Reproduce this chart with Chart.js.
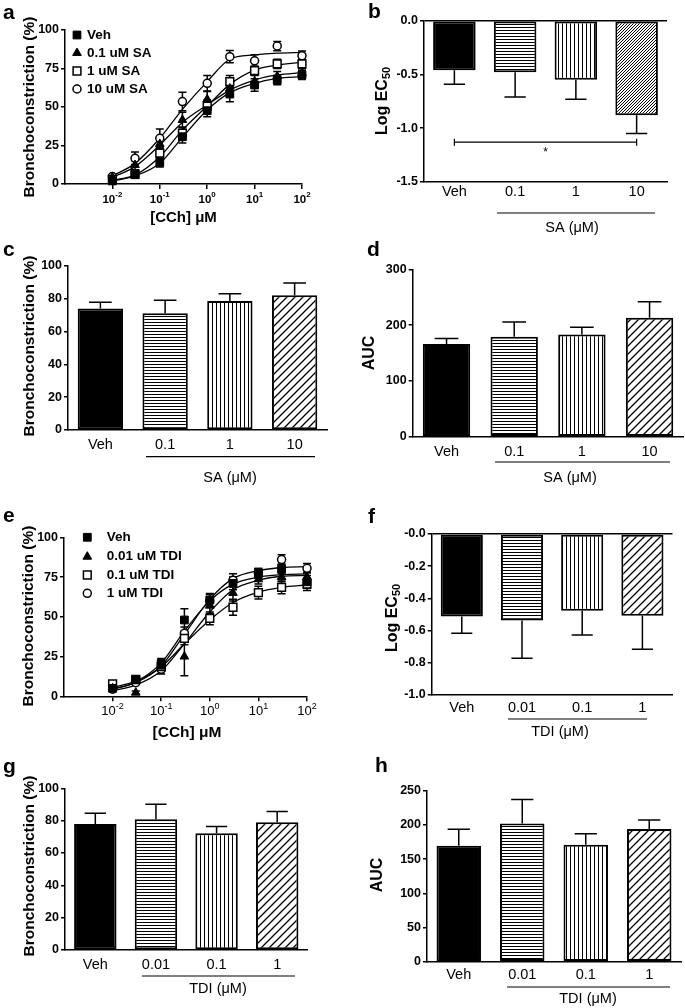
<!DOCTYPE html>
<html>
<head>
<meta charset="utf-8">
<script src="https://cdn.jsdelivr.net/npm/chart.js@4.4.0/dist/chart.umd.min.js"></script>
<style>
html, body { margin: 0; padding: 0; background: #fff; }
#fig { position: relative; width: 685px; height: 1008px; overflow: hidden; }
canvas { position: absolute; }
</style>
</head>
<body>
<div id="fig"></div>
<script>
// concentration-response x values and axis ticks
const conc = [0.01, 0.03, 0.1, 0.3, 1, 3, 10, 30, 100];
const logTicks = [0.01, 0.1, 1, 10, 100];
const saGroups = ['Veh', '0.1', '1', '10'];
const tdiGroups = ['Veh', '0.01', '0.1', '1'];
const saLegend = ['Veh', '0.1 uM SA', '1 uM SA', '10 uM SA'];
const tdiLegend = ['Veh', '0.01 uM TDI', '0.1 uM TDI', '1 uM TDI'];

// a: SA curves (mean, SEM, fitted curve read at each conc)
const aVeh = [2, 6, 14, 30.7, 47.6, 58.4, 64.3, 67.5, 70.8];
const aVehSem = [1, 2, 3, 4, 4, 5, 4, 3, 3];
const aSA01 = [4.3, 12.3, 26, 41.6, 55, 62, 66.5, 70, 72];
const aSA01Sem = [1, 3, 4, 5, 5, 4, 4, 3, 3];
const aSA1 = [3, 6.5, 20, 33, 50.6, 66.5, 73.6, 78, 78];
const aSA1Sem = [1, 2, 3, 4, 4, 4, 3, 3, 3];
const aSA10 = [4.8, 16.7, 29.7, 53.5, 65.4, 82.7, 80, 89.6, 83.3];
const aSA10Sem = [1, 4, 6, 6, 5, 4, 4, 3, 3];
const aVehFit = [2, 5.2, 13.4, 30.3, 48, 59.3, 65.4, 68.6, 69.7];
const aSA01Fit = [4.3, 11.3, 25.3, 40, 51.3, 61, 67.5, 70.8, 72.3];
const aSA1Fit = [2.6, 5.8, 17.7, 35, 50.6, 64.7, 74, 77.3, 79];
const aSA10Fit = [5.2, 13.4, 29.7, 48.5, 66.5, 81, 83.8, 85, 85.5];

// b, c, d: SA summary bars
const bEC50 = [-0.46, -0.48, -0.55, -0.88];
const bSem = [0.13, 0.23, 0.18, 0.17];
const cMax = [74, 71, 78.5, 82];
const cSem = [3.7, 8, 4.5, 7.5];
const dAuc = [166, 179, 183, 213];
const dSem = [10, 26.6, 13, 29];

// e: TDI curves
const eVeh = [5, 10.3, 20.8, 48, 60.6, 71, 77.4, 80, 72];
const eVehSem = [1, 2, 3, 7, 4, 4, 3, 3, 4];
const eTdi001 = [5, 2.3, 18.7, 25, 57, 65, 73.6, 75, 75];
const eTdi001Sem = [1, 1, 3, 12, 5, 5, 3, 3, 3];
const eTdi01 = [7.8, 10.7, 18.7, 36.5, 49, 56, 65.2, 68.5, 70.6];
const eTdi01Sem = [1, 1, 3, 4, 4, 5, 4, 4, 4];
const eTdi1 = [4.5, 8.6, 17, 39.6, 60, 73, 77.4, 86, 80.5];
const eTdi1Sem = [1, 1, 3, 4, 4, 4, 3, 3, 3];
const eVehFit = [4.5, 9, 21, 41, 60, 70.5, 75, 76.5, 77];
const eTdi001Fit = [3.5, 7, 16, 33, 53, 67, 73, 75.5, 76];
const eTdi01Fit = [5.5, 9.5, 18.5, 33, 48, 59, 65.5, 68.5, 70];
const eTdi1Fit = [4.5, 8.5, 19, 39, 61, 74, 79, 81, 81.5];

// f, g, h: TDI summary bars
const fEC50 = [-0.513, -0.538, -0.476, -0.507];
const fSem = [0.104, 0.234, 0.151, 0.209];
const gMax = [77.9, 80.8, 72.2, 79];
const gSem = [6.6, 9.3, 4.1, 6.6];
const hAuc = [169.6, 202, 171, 194];
const hSem = [23.9, 35, 16, 13];

Chart.defaults.font.family = "'Liberation Sans', Arial, Helvetica, sans-serif";
Chart.defaults.color = '#000';
const FONT = Chart.defaults.font.family;
const fig = document.getElementById('fig');

function canvasAt(r) {
  const c = document.createElement('canvas');
  c.width = r[2]; c.height = r[3];
  c.style.left = r[0] + 'px'; c.style.top = r[1] + 'px';
  c.style.width = r[2] + 'px'; c.style.height = r[3] + 'px';
  fig.appendChild(c);
  return c;
}

function frame(rect, area) {
  return {
    padding: {left: 0, top: area[1] - rect[1], right: rect[0] + rect[2] - area[2], bottom: 0},
    yW: area[0] - rect[0],
    xH: rect[1] + rect[3] - area[3]
  };
}

function hatch(kind, gap, lw) {
  const c = document.createElement('canvas');
  c.width = gap; c.height = gap;
  const x = c.getContext('2d');
  x.fillStyle = '#fff'; x.fillRect(0, 0, gap, gap);
  x.strokeStyle = '#000'; x.lineWidth = lw;
  x.beginPath();
  if (kind === 'h') { x.moveTo(0, 0.5); x.lineTo(gap, 0.5); }
  if (kind === 'v') { x.moveTo(0.5, 0); x.lineTo(0.5, gap); }
  if (kind === 'd') {
    x.moveTo(0, gap); x.lineTo(gap, 0);
    x.moveTo(-1, 1); x.lineTo(1, -1);
    x.moveTo(gap - 1, gap + 1); x.lineTo(gap + 1, gap - 1);
  }
  x.stroke();
  return x.createPattern(c, 'repeat');
}
const fillsDense = ['#000', hatch('h', 3, 1), hatch('v', 4, 1), hatch('d', 3, 1)];
const fills = ['#000', hatch('h', 3, 1), hatch('v', 4, 1), hatch('d', 8, 1.3)];

const markerStyles = [
  {pointStyle: 'rect', pointRadius: 5.5, pointBackgroundColor: '#000', pointBorderColor: '#000', pointBorderWidth: 1},
  {pointStyle: 'triangle', pointRadius: 5, pointBackgroundColor: '#000', pointBorderColor: '#000', pointBorderWidth: 1},
  {pointStyle: 'rect', pointRadius: 5.5, pointBackgroundColor: '#fff', pointBorderColor: '#000', pointBorderWidth: 1.5},
  {pointStyle: 'circle', pointRadius: 4, pointBackgroundColor: '#fff', pointBorderColor: '#000', pointBorderWidth: 1.5}
];

function drawErr(chart, both) {
  const ctx = chart.ctx, ys = chart.scales.y;
  ctx.save();
  ctx.strokeStyle = '#000'; ctx.lineWidth = 1.5;
  chart.data.datasets.forEach((ds, i) => {
    if (!ds.sem) return;
    chart.getDatasetMeta(i).data.forEach((el, j) => {
      const v = both ? ds.data[j].y : ds.data[j];
      const e = ds.sem[j];
      const cap = both ? 4 : el.width * 0.25;
      const ends = both ? [v + e, v - e] : [v < 0 ? v - e : v + e];
      ends.forEach(t => {
        const y0 = ys.getPixelForValue(v), y1 = ys.getPixelForValue(t);
        ctx.beginPath();
        ctx.moveTo(el.x, y0); ctx.lineTo(el.x, y1);
        ctx.moveTo(el.x - cap, y1); ctx.lineTo(el.x + cap, y1);
        ctx.stroke();
      });
    });
  });
  ctx.restore();
}

function drawParts(ctx, parts, cx, cy, rotate) {
  ctx.save();
  ctx.translate(cx, cy);
  if (rotate) ctx.rotate(-Math.PI / 2);
  let w = 0;
  parts.forEach(p => { ctx.font = p[1] + ' ' + FONT; w += ctx.measureText(p[0]).width; });
  let x = -w / 2;
  ctx.textAlign = 'left'; ctx.textBaseline = 'middle'; ctx.fillStyle = '#000';
  parts.forEach(p => {
    ctx.font = p[1] + ' ' + FONT;
    ctx.fillText(p[0], x, p[2]);
    x += ctx.measureText(p[0]).width;
  });
  ctx.restore();
}

const decor = {
  id: 'decor',
  beforeDatasetsDraw(chart, args, o) { if (o.points) drawErr(chart, true); },
  afterDatasetsDraw(chart, args, o) { if (!o.points) drawErr(chart, false); },
  afterDraw(chart, args, o) {
    const ctx = chart.ctx, ox = o.origin[0], oy = o.origin[1];
    ctx.save();
    ctx.fillStyle = '#000'; ctx.strokeStyle = '#000';
    ctx.font = 'bold 21px ' + FONT;
    ctx.textAlign = 'left'; ctx.textBaseline = 'alphabetic';
    ctx.fillText(o.letter[0], o.letter[1] - ox, o.letter[2] - oy);
    drawParts(ctx, o.yTitle.parts, o.yTitle.x - ox, o.yTitle.y - oy, true);
    if (o.xTitle) drawParts(ctx, [[o.xTitle.text, o.xTitle.font, 0]], o.xTitle.x - ox, o.xTitle.y - oy, false);
    if (o.logLabels) {
      const s = chart.scales.x, L = o.logLabels;
      s.ticks.forEach(t => {
        const ex = String(Math.round(Math.log10(t.value)));
        drawParts(ctx, [['10', L.font, 0], [ex, L.supFont, L.supDy]], s.getPixelForValue(t.value), L.y - oy, false);
      });
    }
    if (o.legend) {
      const L = o.legend;
      L.labels.forEach((lab, k) => {
        const ds = chart.data.datasets[k];
        const y = L.ys[k] - oy;
        ctx.fillStyle = ds.pointBackgroundColor; ctx.strokeStyle = ds.pointBorderColor;
        ctx.lineWidth = ds.pointBorderWidth;
        Chart.helpers.drawPoint(ctx, {pointStyle: ds.pointStyle, radius: ds.pointRadius, borderWidth: ds.pointBorderWidth, rotation: 0}, L.x - ox, y);
        ctx.fillStyle = '#000';
        ctx.font = L.font + ' ' + FONT; ctx.textAlign = 'left'; ctx.textBaseline = 'middle';
        ctx.fillText(lab, L.tx - ox, y);
      });
    }
    if (o.group) {
      const G = o.group;
      ctx.strokeStyle = '#000'; ctx.lineWidth = 1.2;
      ctx.beginPath(); ctx.moveTo(G.x1 - ox, G.ly - oy); ctx.lineTo(G.x2 - ox, G.ly - oy); ctx.stroke();
      drawParts(ctx, [[G.text, '14.5px', 0]], G.tx - ox, G.ty - oy, false);
    }
    if (o.sig) {
      const S = o.sig, xs = chart.scales.x, ys = chart.scales.y;
      const x1 = xs.getPixelForValue(S.from), x2 = xs.getPixelForValue(S.to), y = ys.getPixelForValue(S.y);
      ctx.strokeStyle = '#000'; ctx.lineWidth = 1.2;
      ctx.beginPath();
      ctx.moveTo(x1, y); ctx.lineTo(x2, y);
      ctx.moveTo(x1, y - 3.5); ctx.lineTo(x1, y + 3.5);
      ctx.moveTo(x2, y - 3.5); ctx.lineTo(x2, y + 3.5);
      ctx.stroke();
      drawParts(ctx, [[S.text, '12px', 0]], (x1 + x2) / 2, ys.getPixelForValue(S.starY), false);
    }
    ctx.restore();
  }
};

function valY(min, max, step, yW, fmt, zero) {
  return {
    type: 'linear', min: min, max: max,
    afterFit: s => { s.width = yW; },
    ticks: {stepSize: step, font: {size: 12.5, weight: 'bold'}, color: '#000', padding: 2, callback: fmt || (v => v)},
    grid: {
      drawOnChartArea: !!zero,
      color: zero ? (c => (c.tick && c.tick.value === 0) ? '#000' : 'rgba(0,0,0,0)') : '#000',
      tickColor: '#000', drawTicks: true, tickLength: 4, lineWidth: 1.5
    },
    border: {display: true, color: '#000', width: 1.5}
  };
}

function logX(xH) {
  return {
    type: 'logarithmic', min: 0.001, max: 100,
    afterBuildTicks: s => { s.ticks = logTicks.map(v => ({value: v})); },
    afterFit: s => { s.height = xH; },
    ticks: {display: false},
    grid: {drawOnChartArea: false, drawTicks: true, tickLength: 5, color: '#000', lineWidth: 1.5},
    border: {display: true, color: '#000', width: 1.5}
  };
}

function catX(xH, pad) {
  return {
    type: 'category', offset: true,
    afterFit: s => { s.height = xH; },
    ticks: {font: {size: 14.5}, color: '#000', padding: pad, maxRotation: 0, autoSkip: false},
    grid: {display: false, drawTicks: false},
    border: {display: true, color: '#000', width: 1.5}
  };
}

function curveSets(means, sems, fits) {
  const out = [];
  means.forEach((m, k) => out.push(Object.assign({
    data: conc.map((c, j) => ({x: c, y: m[j]})),
    sem: sems[k], showLine: false, clip: false
  }, markerStyles[k])));
  fits.forEach(f => out.push({
    data: conc.map((c, j) => ({x: c, y: f[j]})),
    showLine: true, pointRadius: 0, borderColor: '#000', borderWidth: 1.3,
    cubicInterpolationMode: 'monotone', fill: false, clip: false
  }));
  return out;
}

function curveChart(rect, area, sets, deco) {
  const fr = frame(rect, area);
  deco.origin = [rect[0], rect[1]];
  deco.points = true;
  return new Chart(canvasAt(rect), {
    type: 'scatter',
    data: {datasets: sets},
    options: {
      responsive: false, animation: false, events: [],
      layout: {padding: fr.padding},
      scales: {x: logX(fr.xH), y: valY(0, 100, 25, fr.yW)},
      plugins: {legend: {display: false}, tooltip: {enabled: false}, decor: deco}
    },
    plugins: [decor]
  });
}

function barChart(rect, area, labels, values, sems, bg, yAx, pad, deco) {
  const fr = frame(rect, area);
  deco.origin = [rect[0], rect[1]];
  deco.points = false;
  const y = valY(yAx[0], yAx[1], yAx[2], fr.yW, yAx[3], yAx[4]);
  return new Chart(canvasAt(rect), {
    type: 'bar',
    data: {
      labels: labels,
      datasets: [{
        data: values, sem: sems, backgroundColor: bg, borderColor: '#000', borderWidth: 2,
        borderSkipped: false, barPercentage: 0.7, categoryPercentage: 1
      }]
    },
    options: {
      responsive: false, animation: false, events: [],
      layout: {padding: fr.padding},
      scales: {x: catX(fr.xH, pad), y: y},
      plugins: {legend: {display: false}, tooltip: {enabled: false}, decor: deco}
    },
    plugins: [decor]
  });
}

const bronch = t => [['Bronchoconstriction (%)', 'bold 15.5px', 0]];
const logEC = [['Log EC', 'bold 16px', 0], ['50', 'bold 11px', 4]];
const auc = [['AUC', 'bold 16px', 0]];

// a
curveChart([0, 0, 342, 248], [65, 30, 302, 184],
  curveSets([aVeh, aSA01, aSA1, aSA10], [aVehSem, aSA01Sem, aSA1Sem, aSA10Sem], [aVehFit, aSA01Fit, aSA1Fit, aSA10Fit]),
  {letter: ['a', 3, 19.3], yTitle: {parts: bronch(), x: 30, y: 107},
   xTitle: {text: '[CCh] \u03bcM', x: 183.5, y: 218, font: 'bold 15px'},
   logLabels: {y: 200, font: 'bold 11.5px', supFont: 'bold 8px', supDy: -5},
   legend: {x: 77, tx: 87, ys: [35, 53, 71, 89], labels: saLegend, font: 'bold 13.5px'}});

// b
barChart([342, 0, 343, 248], [424, 20.7, 667, 182], saGroups, bEC50, bSem, fillsDense,
  [-1.5, 0, 0.5, v => v.toFixed(1), true], 1.3,
  {letter: ['b', 368, 18.3], yTitle: {parts: logEC, x: 383, y: 101},
   group: {text: 'SA (\u03bcM)', x1: 497, x2: 655, ly: 213, tx: 572, ty: 228},
   sig: {from: 0, to: 3, y: -1.13, starY: -1.225, text: '*'}});

// c
barChart([0, 232, 342, 263], [68, 265.7, 327, 430], saGroups, cMax, cSem, fills,
  [0, 100, 20], 6.3,
  {letter: ['c', 3, 256], yTitle: {parts: bronch(), x: 30, y: 346},
   group: {text: 'SA (\u03bcM)', x1: 146, x2: 315, ly: 456.7, tx: 230, ty: 477.7}});

// d
barChart([342, 232, 343, 263], [412.7, 269.3, 683.4, 436.7], saGroups, dAuc, dSem, fills,
  [0, 300, 100], 6.3,
  {letter: ['d', 367, 256], yTitle: {parts: auc, x: 370, y: 353},
   group: {text: 'SA (\u03bcM)', x1: 495, x2: 670, ly: 462, tx: 570, ty: 477.7}});

// e
curveChart([0, 495, 342, 250], [64, 537.3, 307, 696.3],
  curveSets([eVeh, eTdi001, eTdi01, eTdi1], [eVehSem, eTdi001Sem, eTdi01Sem, eTdi1Sem], [eVehFit, eTdi001Fit, eTdi01Fit, eTdi1Fit]),
  {letter: ['e', 3, 521.7], yTitle: {parts: bronch(), x: 29, y: 616},
   xTitle: {text: '[CCh] \u03bcM', x: 187, y: 733, font: 'bold 15.5px'},
   logLabels: {y: 711.7, font: '13px', supFont: '9px', supDy: -5},
   legend: {x: 87.3, tx: 106.7, ys: [537.3, 556.7, 575, 593.3], labels: tdiLegend, font: 'bold 13.5px'}});

// f
barChart([342, 495, 343, 250], [431.7, 534, 672.5, 695], tdiGroups, fEC50, fSem, fills,
  [-1, 0, 0.2, v => '-' + Math.abs(v).toFixed(1), true], 4.3,
  {letter: ['f', 368, 523], yTitle: {parts: logEC, x: 393, y: 618},
   group: {text: 'TDI (\u03bcM)', x1: 508, x2: 647, ly: 719, tx: 560, ty: 732}});

// g
barChart([0, 745, 342, 263], [65, 788.3, 307.5, 950], tdiGroups, gMax, gSem, fills,
  [0, 100, 20], 6.3,
  {letter: ['g', 3, 773], yTitle: {parts: bronch(), x: 30, y: 866},
   group: {text: 'TDI (\u03bcM)', x1: 142, x2: 295, ly: 976, tx: 218, ty: 989}});

// h
barChart([342, 745, 343, 263], [427, 790.7, 681, 961.7], tdiGroups, hAuc, hSem, fills,
  [0, 250, 50], 4.6,
  {letter: ['h', 375, 772], yTitle: {parts: auc, x: 378, y: 875},
   group: {text: 'TDI (\u03bcM)', x1: 507, x2: 670, ly: 987, tx: 588, ty: 999}});
</script>
</body>
</html>
